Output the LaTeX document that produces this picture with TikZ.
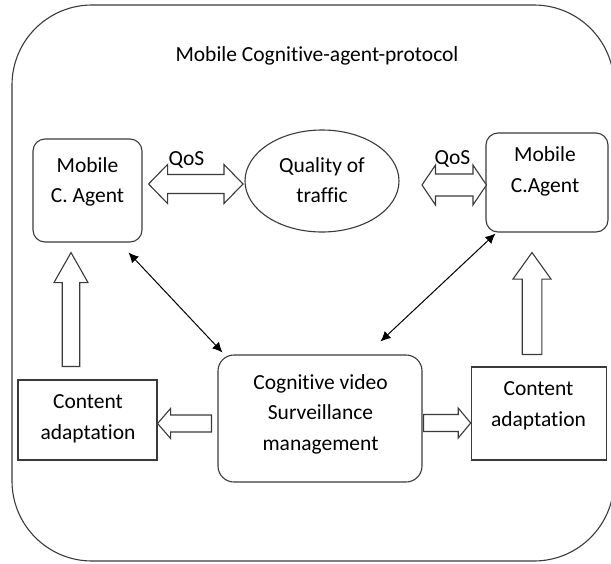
\documentclass[tikz,border=0pt]{standalone}
\usepackage{fontspec}
\setmainfont{Carlito}[Ligatures=NoCommon]
\usetikzlibrary{calc,arrows.meta}

\definecolor{linegray}{HTML}{3A3A3A}

% hollow block arrow: from, to, shaft half-width, head half-width, head length
\newcommand\blockarrow[5]{%
  \coordinate (ba-q) at ($(#2)!#5!(#1)$);
  \draw[blockline] ($(#1)!#3!90:(#2)$) -- ($(ba-q)!#3!90:(#2)$)
    -- ($(ba-q)!#4!90:(#2)$) -- (#2) -- ($(ba-q)!#4!-90:(#2)$)
    -- ($(ba-q)!#3!-90:(#2)$) -- ($(#1)!#3!-90:(#2)$) -- cycle;
}
% hollow block arrow with a head at each end
\newcommand\blockdarrow[5]{%
  \coordinate (bd-p) at ($(#1)!#5!(#2)$);
  \coordinate (bd-q) at ($(#2)!#5!(#1)$);
  \draw[blockline] (#1) -- ($(bd-p)!#4!90:(#2)$) -- ($(bd-p)!#3!90:(#2)$)
    -- ($(bd-q)!#3!90:(#2)$) -- ($(bd-q)!#4!90:(#2)$) -- (#2)
    -- ($(bd-q)!#4!-90:(#2)$) -- ($(bd-q)!#3!-90:(#2)$)
    -- ($(bd-p)!#3!-90:(#2)$) -- ($(bd-p)!#4!-90:(#2)$) -- cycle;
}

\tikzset{
  roundbox/.style={draw=linegray, line width=1.1pt, rounded corners=12pt, inner sep=0pt},
  plainbox/.style={draw=linegray, line width=1.1pt, inner sep=0pt},
  lbl/.style={font=\fontsize{21.5}{30.5}\selectfont, align=center, inner sep=0pt, text=black},
  blockline/.style={draw=linegray, line width=1.1pt, fill=white, line join=miter},
  linkarrow/.style={draw=black, line width=1pt,
    arrows={Latex[length=10pt,width=9.5pt]-Latex[length=10pt,width=9.5pt]}},
}

\begin{document}
\begin{tikzpicture}[x=1pt, y=-1pt]
  \useasboundingbox (0,0) rectangle (611,563);

  % outer frame
  \draw[linegray, line width=1.1pt, rounded corners=80pt] (12,5) rectangle (614,561);
  \node[lbl] (title) at (317,56) {Mobile Cognitive-agent-protocol};

  % boxes
  \node[roundbox, minimum width=109pt, minimum height=103pt] (agentL) at (87.5,190.5) {};
  \node[lbl] (agentLtxt) at (87.5,182) {Mobile\\C. Agent};

  \node[roundbox, minimum width=122pt, minimum height=99pt] (agentR) at (547,182.5) {};
  \node[lbl] (agentRtxt) at (545,171.5) {Mobile\\C.Agent};

  \draw[linegray, line width=1.1pt] (322,181) ellipse [x radius=77, y radius=51];
  \coordinate (quality) at (322,181);
  \node[lbl] (qualitytxt) at (322,180) {Quality of\\traffic};

  \node[roundbox, rounded corners=16pt, minimum width=204pt, minimum height=127pt] (central) at (320,418.5) {};
  \node[lbl] (centraltxt) at (320.5,414) {Cognitive video\\Surveillance\\management};

  \node[plainbox, minimum width=139pt, minimum height=80pt] (contentL) at (87.5,420) {};
  \node[lbl] (contentLtxt) at (88,418.5) {Content\\adaptation};

  \node[plainbox, minimum width=135.5pt, minimum height=93pt] (contentR) at (539,413.5) {};
  \node[lbl] (contentRtxt) at (538.5,405.5) {Content\\adaptation};

  % QoS exchanges
  \coordinate (qlA) at ($(agentL.east)+(6,-6.5)$);
  \coordinate (qlB) at ($(quality)+(-79,3)$);
  \blockdarrow{qlA}{qlB}{9.5pt}{19.5pt}{19pt}
  \node[lbl] (qosL) at (186.5,160) {QoS};

  \coordinate (qrA) at ($(quality)+(100,4)$);
  \coordinate (qrB) at ($(agentR.west)+(1,2.5)$);
  \blockdarrow{qrA}{qrB}{11pt}{20pt}{13.5pt}
  \node[lbl] (qosR) at (452.5,159) {QoS};

  % content adaptation feeding the agents
  \coordinate (upLA) at ($(contentL.north)+(-16.5,-13)$);
  \coordinate (upLB) at ($(agentL.south)+(-16.5,10)$);
  \blockarrow{upLA}{upLB}{8.75pt}{17pt}{30pt}

  \coordinate (upRA) at ($(contentR.north)+(-7,-12)$);
  \coordinate (upRB) at ($(agentR.south)+(-15,20)$);
  \blockarrow{upRA}{upRB}{9.8pt}{19pt}{26.5pt}

  % management driving content adaptation
  \coordinate (sideLA) at ($(central.west)+(-6,5)$);
  \coordinate (sideLB) at ($(contentL.east)+(0,3.5)$);
  \blockarrow{sideLA}{sideLB}{8.5pt}{15pt}{13pt}

  \coordinate (sideRA) at ($(central.east)+(1,4.5)$);
  \coordinate (sideRB) at ($(contentR.west)+(0,9.5)$);
  \blockarrow{sideRA}{sideRB}{8.5pt}{15pt}{12.5pt}

  % agent <-> management links
  \coordinate (linkLA) at ($(agentL.south east)+(-14,10)$);
  \coordinate (linkLB) at ($(central.north west)+(5,-2)$);
  \draw[linkarrow] (linkLA) -- (linkLB);

  \coordinate (linkRA) at ($(central.north east)+(-42,-13)$);
  \coordinate (linkRB) at ($(agentR.south west)+(10,1)$);
  \draw[linkarrow] (linkRA) -- (linkRB);
\end{tikzpicture}
\end{document}
